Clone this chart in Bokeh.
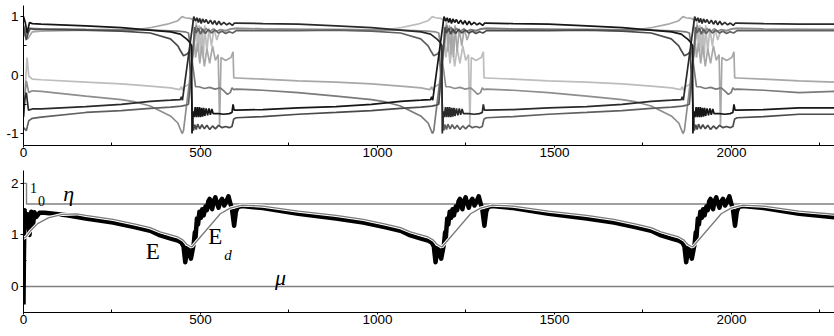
from bokeh.plotting import figure
from bokeh.layouts import column
from bokeh.models import Range1d, FixedTicker, Label
from bokeh.embed import file_html
from bokeh.resources import INLINE

X_END = 2291
EVENTS = [476, 1183, 1891]          # times of the switching events

# ---------------- top panel: role profiles (dt relative to event, value) ----------------
PRE = {
    "TB": [(-300, 0.84), (-200, 0.81), (-118, 0.77), (-60, 0.74), (-33, 0.70), (-14, 0.61), (-6, 0.56), (-1, 0.50)],
    "BB": [(-300, -0.54), (-200, -0.50), (-118, -0.45), (-60, -0.43), (-33, -0.42), (-30, -0.37), (-27, -0.43)],
    "TD": [(-300, 0.77), (-200, 0.75), (-118, 0.72), (-61, 0.62), (-40, 0.50), (-33, 0.42), (-24, 0.33), (-14, 0.36), (-8, 0.40)],
    "BD": [(-300, -0.64), (-200, -0.61), (-118, -0.57), (-60, -0.55), (-30, -0.53), (-20, -0.52)],
    "TG": [(-300, 0.78), (-120, 0.77), (-40, 0.75), (-20, 0.74), (-10, 0.72)],
    "MG": [(-300, -0.36), (-200, -0.42), (-160, -0.46), (-118, -0.53), (-61, -0.70), (-40, -0.82), (-28, -1.0)],
    "TL": [(-300, 0.77), (-200, 0.76), (-160, 0.77), (-118, 0.81), (-70, 0.87), (-40, 0.93), (-28, 1.0)],
    "ML": [(-300, -0.12), (-200, -0.15), (-118, -0.19), (-60, -0.22), (-35, -0.25), (-30, -0.20), (-27, -0.26)],
}
BURST = {
    "TB": [(0, -1.0), (3, -0.62), (6, -0.72), (9, -0.55), (12, -0.72), (15, -0.55), (18, -0.72), (21, -0.55),
           (24, -0.72), (27, -0.56), (30, -0.71), (33, -0.56), (36, -0.70), (40, -0.57), (44, -0.69), (48, -0.57),
           (52, -0.68), (56, -0.58), (60, -0.66), (75, -0.66), (90, -0.67), (105, -0.66), (113, -0.64),
           (116, -0.50), (119, -0.60)],
    "BB": [(5, 1.0), (10, 0.92), (14, 0.98), (18, 0.90), (22, 0.97), (26, 0.88), (30, 0.96), (35, 0.90),
           (40, 0.95), (46, 0.88), (52, 0.94), (58, 0.87), (64, 0.93), (70, 0.86), (76, 0.92), (82, 0.86),
           (90, 0.90), (98, 0.86), (106, 0.89), (114, 0.85), (120, 0.89)],
    "TD": [(4, -0.95), (8, -0.85), (12, -0.93), (16, -0.84), (22, -0.92), (28, -0.85), (35, -0.92), (42, -0.86),
           (50, -0.93), (58, -0.87), (66, -0.92), (75, -0.86), (85, -0.90), (95, -0.88), (105, -0.90),
           (113, -0.88), (118, -0.75)],
    "BD": [(-10, -0.50), (8, 0.82), (12, 0.72), (18, 0.80), (24, 0.70), (30, 0.79), (38, 0.71), (46, 0.78),
           (55, 0.72), (65, 0.77), (75, 0.72), (85, 0.75), (95, 0.71), (105, 0.74), (115, 0.72)],
    "TG": [(10, -0.20), (20, -0.20), (35, -0.23), (50, -0.21), (65, -0.24), (80, -0.22), (90, -0.27),
           (100, -0.33), (108, -0.30), (113, -0.22), (118, -0.25)],
    "MG": [(-24, -0.95), (12, 0.85), (18, 0.75), (25, 0.82), (32, 0.72), (40, 0.80), (50, 0.74), (60, 0.79),
           (70, 0.75), (80, 0.78), (95, 0.76), (110, 0.79)],
    "TL": [(-20, 0.98), (-5, 0.97), (2, 0.95), (10, 0.30), (16, 0.55), (22, 0.20), (28, 0.50), (35, 0.15),
           (42, 0.45), (50, 0.20), (58, 0.50), (66, 0.25), (74, 0.35), (78, -0.85), (82, 0.30), (95, 0.25),
           (110, 0.30), (116, 0.40), (118, -0.05)],
    "ML": [(-22, -0.20), (-5, -0.15), (12, 0.90), (16, 0.40), (20, 0.85), (24, 0.35), (28, 0.80), (32, 0.30),
           (36, 0.85), (42, 0.40), (48, 0.80), (55, 0.50), (62, 0.80), (70, 0.60), (80, 0.78), (95, 0.75),
           (110, 0.79)],
}
DECAY = {
    "TB": [(125, 0.89), (200, 0.88), (300, 0.87)],
    "BB": [(125, -0.60), (200, -0.59), (300, -0.56)],
    "TD": [(125, 0.76), (200, 0.76), (300, 0.76)],
    "BD": [(125, -0.73), (200, -0.71), (300, -0.67)],
    "TG": [(125, 0.80), (200, 0.79), (300, 0.78)],
    "MG": [(125, -0.24), (200, -0.26), (300, -0.30)],
    "TL": [(125, 0.80), (200, 0.79), (300, 0.78)],
    "ML": [(125, -0.05), (200, -0.07), (300, -0.10)],
}
END = {"TB": 0.87, "BB": -0.56, "TD": 0.76, "BD": -0.67, "TG": 0.78, "MG": -0.28, "TL": 0.77, "ML": -0.12}

# series: (colour, start-up values, roles per cycle)
SERIES = [
    ("#bdbdbd", [(0, -0.70), (10, 0.30), (15, -0.02), (25, -0.07), (50, -0.08)], ["ML", "TL", "ML", "TL"]),
    ("#a8a8a8", [(0, 0.70), (12, 0.62), (25, 0.74), (50, 0.75)], ["TL", "ML", "TL", "ML"]),
    ("#8e8e8e", [(0, -0.55), (8, -0.10), (15, -0.30), (25, -0.27), (50, -0.28)], ["MG", "TG", "MG", "TG"]),
    ("#7a7a7a", [(0, 0.85), (10, 0.68), (20, 0.80), (50, 0.79)], ["TG", "MG", "TG", "MG"]),
    ("#606060", [(0, -0.90), (8, -0.95), (15, -0.78), (25, -0.74), (50, -0.72)], ["BD", "TD", "BD", "TD"]),
    ("#4a4a4a", [(0, 0.82), (8, 0.60), (16, 0.80), (30, 0.78), (50, 0.78)], ["TD", "BD", "TD", "BD"]),
    ("#2a2a2a", [(0, -0.72), (4, -0.40), (8, -0.30), (14, -0.60), (25, -0.58), (50, -0.58)], ["BB", "TB", "BB", "TB"]),
    ("#161616", [(0, 1.0), (5, 0.90), (10, 0.72), (17, 0.90), (25, 0.88), (50, 0.87)], ["TB", "BB", "TB", "BB"]),
]

# ---------------- bottom panel ----------------
E_START = [(0, -0.35), (1, 0.5), (3, 1.48), (8, 1.15), (12, 1.40), (17, 1.00), (22, 1.45), (27, 1.20),
           (31, 1.44), (36, 1.35), (45, 1.43), (60, 1.43), (123, 1.38)]
E_PRE = [(-300, 1.32), (-223, 1.24), (-160, 1.15), (-118, 1.08), (-90, 0.99), (-60, 0.93), (-40, 0.89),
         (-30, 0.85), (-24, 0.78), (-19, 0.47), (-13, 0.75), (-8, 0.68), (-3, 0.54)]
E_BURST = [(5, 0.83), (8, 1.05), (10, 0.95), (14, 1.32), (17, 1.20), (21, 1.45), (25, 1.33), (29, 1.50),
           (33, 1.38), (38, 1.55), (42, 1.48), (46, 1.65), (50, 1.70), (54, 1.55), (57, 1.50), (61, 1.65),
           (66, 1.73), (70, 1.62), (75, 1.53), (80, 1.65), (85, 1.70), (91, 1.57), (97, 1.65), (103, 1.75),
           (108, 1.62), (113, 1.50), (119, 1.18), (124, 1.45), (129, 1.54)]
E_DECAY = [(141, 1.56), (200, 1.52), (300, 1.41)]
E_END = 1.34

ED_START = [(0, 0.93), (8, 0.97), (20, 1.08), (40, 1.22), (70, 1.33), (110, 1.40), (150, 1.41)]
ED_PRE = [(-300, 1.38), (-223, 1.30), (-160, 1.21), (-118, 1.14), (-90, 1.06), (-60, 1.00), (-40, 0.96),
          (-25, 0.90), (-15, 0.82), (-5, 0.78), (0, 0.77)]
ED_BURST = [(80, 1.41), (108, 1.52)]
ED_DECAY = [(141, 1.58), (200, 1.56), (300, 1.46)]
ED_END = 1.40

ETA_T = [0, 8.5, 8.5, X_END]
ETA_Y = [2.0, 2.0, 1.6, 1.6]
MU_T = [0, X_END]
MU_Y = [0.0, 0.0]


def build_roles(start, roles):
    pts = list(start)
    for k, T in enumerate(EVENTS):
        r, nxt = roles[k], roles[k + 1]
        pts += [(T + dt, y) for dt, y in PRE[r]]
        pts += [(T + dt, y) for dt, y in BURST[r]]
        pts += [(T + dt, y) for dt, y in DECAY[nxt]]
    pts.append((X_END, END[roles[-1]]))
    return [p[0] for p in pts], [p[1] for p in pts]


def build_single(start, pre, burst, decay, end):
    pts = list(start)
    for T in EVENTS:
        pts += [(T + dt, y) for dt, y in pre]
        pts += [(T + dt, y) for dt, y in burst]
        pts += [(T + dt, y) for dt, y in decay]
    pts.append((X_END, end))
    return [p[0] for p in pts], [p[1] for p in pts]


def style(p, yticks, yminor):
    p.xgrid.grid_line_color = None
    p.ygrid.grid_line_color = None
    p.outline_line_color = None
    p.background_fill_color = "white"
    p.border_fill_color = "white"
    for ax in p.xaxis:
        ax.ticker = FixedTicker(ticks=[0, 500, 1000, 1500, 2000], minor_ticks=[250, 750, 1250, 1750, 2250])
        ax.major_tick_out = 2
        ax.major_tick_in = 0
        ax.minor_tick_in = 3
        ax.minor_tick_out = 0
        ax.major_label_standoff = 0
    for ax in p.yaxis:
        ax.ticker = FixedTicker(ticks=yticks, minor_ticks=yminor)
        ax.major_tick_out = 3
        ax.major_tick_in = 0
        ax.minor_tick_in = 3
        ax.minor_tick_out = 0
        ax.major_label_standoff = 2
        ax.major_label_overrides = {t: ("-%d" % abs(t) if t < 0 else "%d" % t) for t in yticks}
    for ax in p.xaxis + p.yaxis:
        ax.axis_line_color = "black"
        ax.major_tick_line_color = "black"
        ax.minor_tick_line_color = "black"
        ax.major_label_text_font = "Liberation Sans"
        ax.major_label_text_font_size = "13.5px"
        ax.major_label_text_color = "black"


p1 = figure(frame_width=811, frame_height=140, x_range=Range1d(0, X_END), y_range=Range1d(-1.205, 1.19),
            output_backend="svg", toolbar_location=None, min_border_left=23, min_border_right=0,
            min_border_top=5, min_border_bottom=20)
style(p1, [-1, 0, 1], [-0.5, 0.5])
for color, start, roles in SERIES:
    xs, ys = build_roles(start, roles)
    p1.line(xs, ys, line_color=color, line_width=1.7)

p2 = figure(frame_width=811, frame_height=142, x_range=p1.x_range, y_range=Range1d(-0.505, 2.25),
            output_backend="svg", toolbar_location=None, min_border_left=23, min_border_right=0,
            min_border_top=5, min_border_bottom=24)
style(p2, [0, 1, 2], [-0.5, 0.5, 1.5])
p2.line(ETA_T, ETA_Y, line_color="#808080", line_width=1.4)
p2.line(MU_T, MU_Y, line_color="#808080", line_width=1.4)
ex, ey = build_single(E_START, E_PRE, E_BURST, E_DECAY, E_END)
p2.line(ex, ey, line_color="black", line_width=4.5, line_join="round")
dx, dy = build_single(ED_START, ED_PRE, ED_BURST, ED_DECAY, ED_END)
p2.line(dx, dy, line_color="white", line_width=3.2)
p2.line(dx, dy, line_color="#7a7a7a", line_width=1.3)

serif = "Liberation Serif"


def lab(x, y, text, size, style="normal"):
    p2.add_layout(Label(x=x, y=y, text=text, text_font=serif, text_font_size=size, text_font_style=style,
                        text_color="black", text_align="center", text_baseline="middle"))


lab(28, 1.92, "1", "14px")
lab(51, 1.66, "0", "14px")
lab(128, 1.80, "η", "22px", "italic")
lab(365, 0.67, "E", "23px")
lab(542, 0.96, "E", "23px")
lab(578, 0.62, "d", "15px", "italic")
lab(726, 0.17, "μ", "22px", "italic")

layout = column(p1, p2, spacing=0)
open("out.html", "w").write(file_html(layout, INLINE))
